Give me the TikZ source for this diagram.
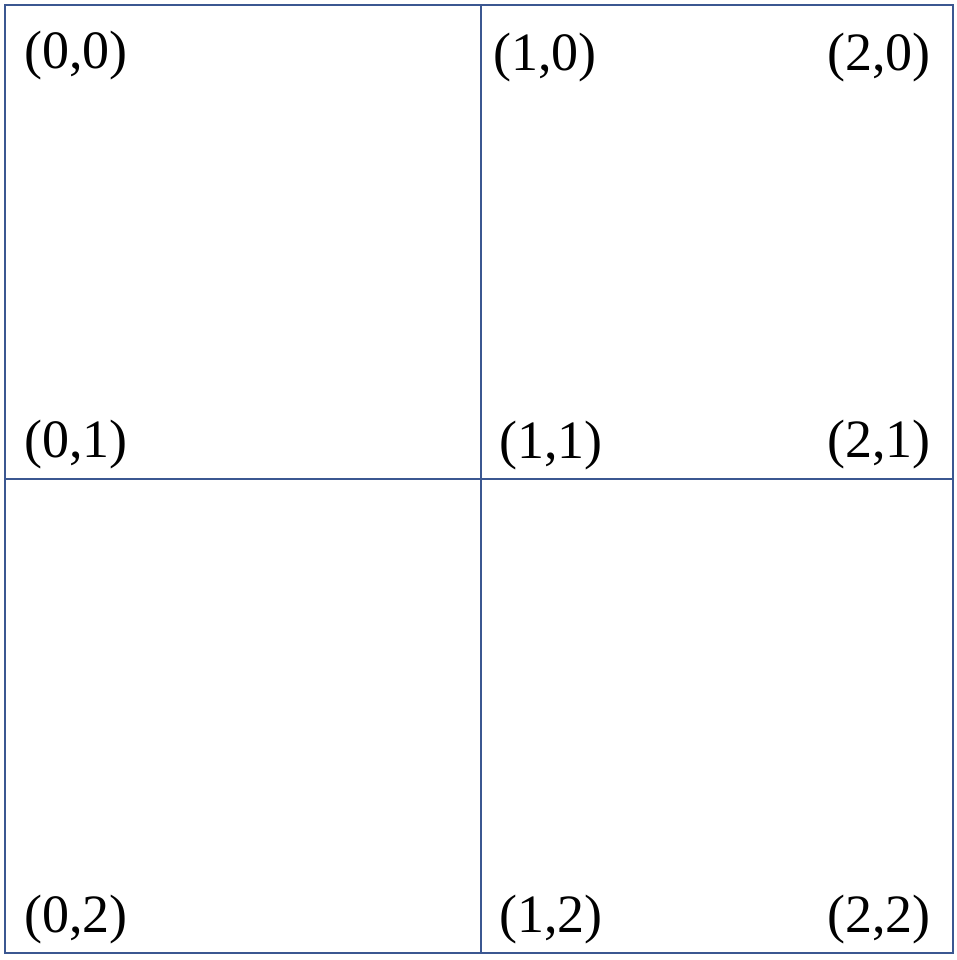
\documentclass[tikz,border=0pt]{standalone}
\usepackage{fontspec}
\setmainfont{Liberation Serif}
\definecolor{gridblue}{RGB}{59,87,145}
\begin{document}
\begin{tikzpicture}[x=1pt,y=-1pt,
  gridline/.style={draw=gridblue,line width=2pt},
  lbl/.style={inner sep=0pt,anchor=center,font=\fontsize{54}{64}\selectfont}]
\useasboundingbox (0,0) rectangle (956,960);
\coordinate (tl) at (5,5);
\coordinate (br) at (953,953);
\coordinate (tm) at (480.5,5);
\coordinate (bm) at (480.5,953);
\coordinate (ml) at (5,479);
\coordinate (mr) at (953,479);
\draw[gridline] (tl) rectangle (br);
\draw[gridline] (tm) -- (bm);
\draw[gridline] (ml) -- (mr);
\node[lbl] (a00) at (76,56) {(0,0)};
\node[lbl] (a10) at (545,58) {(1,0)};
\node[lbl] (a20) at (879,58) {(2,0)};
\node[lbl] (a01) at (76,445) {(0,1)};
\node[lbl] (a11) at (551,446) {(1,1)};
\node[lbl] (a21) at (879,445) {(2,1)};
\node[lbl] (a02) at (76,920) {(0,2)};
\node[lbl] (a12) at (551,920) {(1,2)};
\node[lbl] (a22) at (879,920) {(2,2)};
\end{tikzpicture}
\end{document}
